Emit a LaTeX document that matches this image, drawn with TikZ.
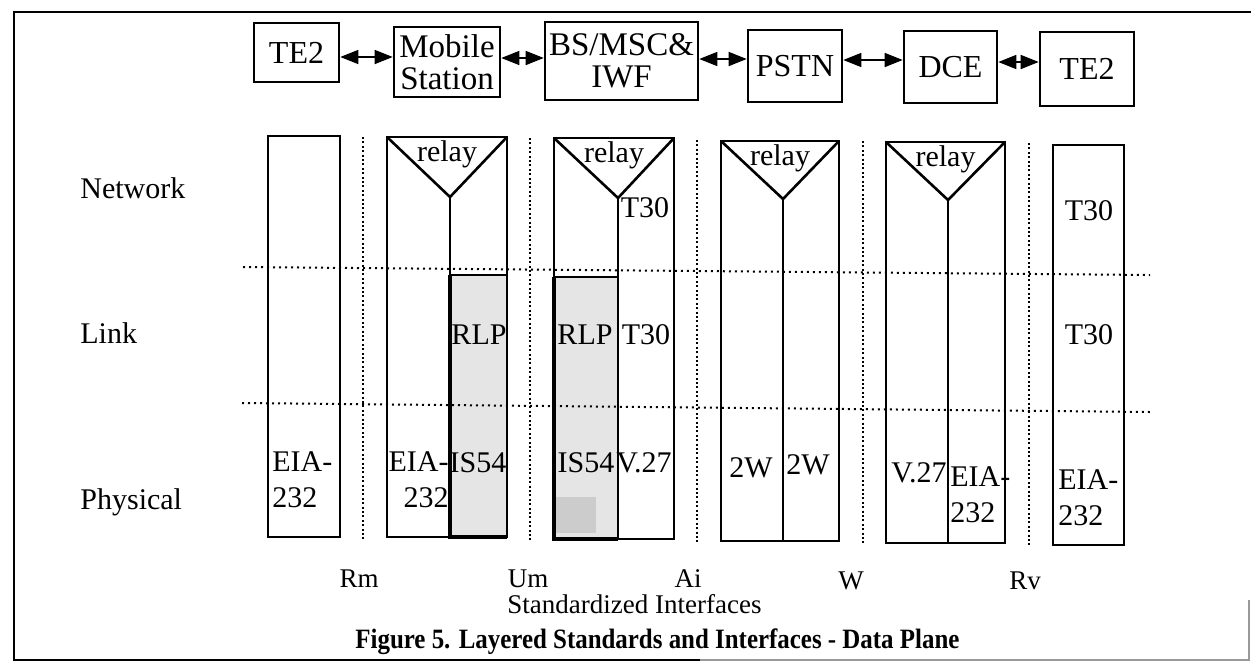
\documentclass[tikz,border=0pt]{standalone}
\usepackage{fontspec}
\setmainfont{Liberation Serif}
\usetikzlibrary{arrows.meta,positioning}
\definecolor{Shade}{gray}{0.90}
\definecolor{ShadeDark}{gray}{0.80}
\definecolor{FrameGray}{gray}{0.60}

\begin{document}
\begin{tikzpicture}[x=0.5pt, y=-0.5pt, >={Triangle[length=9pt,width=7pt]},
    unit/.style={draw, line width=1.3pt, inner sep=0pt, align=center, font=\fontsize{16}{14}\selectfont},
    col/.style={line width=0.9pt},
    relayline/.style={line width=1.3pt},
    iface/.style={line width=1.3pt, dash pattern=on 1pt off 1.2pt},
    layerline/.style={line width=1pt, dash pattern=on 1pt off 2pt},
    txt/.style={font=\fontsize{15}{18}\selectfont, inner sep=0pt},
    lbl/.style={font=\fontsize{13.5}{16}\selectfont, inner sep=0pt}]
    \useasboundingbox (0,0) rectangle (1251,670);

    % Frame
    \draw[line width=1.2pt] (1251,12) -- (14,12) -- (14,660) -- (700,660);
    \draw[FrameGray, line width=0.8pt] (700,660) -- (1249,660) -- (1249,600);

    % Top row of units
    \node[unit, minimum width=42.5pt, minimum height=29.5pt] (te2a) at (296.5,52.5) {TE2};
    \node[unit, font=\fontsize{16.5}{16}\selectfont, minimum width=53pt, minimum height=35pt] (ms) at (447,62) {Mobile\\Station};
    \node[unit, font=\fontsize{16.5}{16}\selectfont, minimum width=76.5pt, minimum height=39pt] (bsc) at (621.5,61) {BS/MSC\&\\IWF};
    \node[unit, minimum width=47pt, minimum height=36pt] (pstn) at (795,66) {PSTN};
    \node[unit, minimum width=46.5pt, minimum height=36pt] (dce) at (950.5,67) {DCE};
    \node[unit, minimum width=47pt, minimum height=37pt] (te2b) at (1087,69) {TE2};

    % Links between units
    \foreach \a/\b/\s in {te2a/ms/-2.25pt, ms/bsc/2pt, bsc/pstn/1pt, pstn/dce/3pt, dce/te2b/2.5pt} {
        \coordinate (\a-out) at ([yshift=\s]\a.east);
        \draw[<->, line width=0.8pt] (\a-out) -- (\a-out -| \b.west);
    }

    % Shaded RLP/IS54 stacks
    \fill[Shade] (450,275) rectangle (507,537);
    \fill[Shade] (554,277) rectangle (618,539);
    \fill[ShadeDark] (556,497) rectangle (596,533);
    \draw[col] (450,275) -- (507,275);
    \draw[col] (554,277) -- (618,277);
    \draw[line width=1.8pt] (450,275) -- (450,537) -- (507,537);
    \draw[line width=1.8pt] (554,277) -- (554,539) -- (618,539);

    % Layer boundaries
    \draw[layerline] (243,267) -- (1150,275);
    \draw[layerline] (242,403) -- (1150,412);

    % Protocol stacks
    \foreach \xl/\xr/\yt/\yb in {268/340/136/537, 387/507/137/537, 554/674/138/539,
                                 721/839/141/541, 886/1005/142/543, 1053/1124/145/545}
        \draw[col] (\xl,\yt) rectangle (\xr,\yb);

    % Relay triangles
    \foreach \xl/\xr/\yt/\xa/\ya/\yb [count=\i] in {387/507/137/450/197/537, 554/674/138/618/198/539,
                                                   721/839/141/783/199/541, 886/1005/142/948/200/543} {
        \draw[relayline, line join=miter] (\xl,\yt) -- (\xa,\ya) -- (\xr,\yt);
        \draw[col] (\xa,\ya) -- (\xa,\yb);
        \node[txt] (relay\i) at ({(\xl+\xr)/2},{\yt+17}) {relay};
    }

    % Interfaces
    \foreach \x/\yt/\yb in {363/137/540, 530/138/541, 697/140/542, 863/141/543, 1029/143/546}
        \draw[iface] (\x,\yt) -- (\x,\yb);

    % Layer names
    \node[txt, anchor=west] (lnet) at (80,188) {Network};
    \node[txt, anchor=west] (llink) at (80,333) {Link};
    \node[txt, anchor=west] (lphys) at (80,502) {Physical};

    % Stack contents
    \node[txt] (t30n3) at (645,208) {T30};
    \node[txt] (t30n6) at (1089,211) {T30};
    \node[txt] (rlp2) at (479,335) {RLP};
    \node[txt] (rlp3) at (585,335) {RLP};
    \node[txt] (t30l3) at (646,335) {T30};
    \node[txt] (t30l6) at (1089,335) {T30};
    \node[txt, align=left, anchor=west] (eia1) at (272,480) {EIA-\\232};
    \node[txt, align=right, anchor=east] (eia2) at (449,480) {EIA-\\232};
    \node[txt] (is2) at (478,463) {IS54};
    \node[txt] (is3) at (586,463) {IS54};
    \node[txt] (v3) at (644,463) {V.27};
    \node[txt] (w4a) at (751,468) {2W};
    \node[txt] (w4b) at (808,465) {2W};
    \node[txt] (v5) at (919,473) {V.27};
    \node[txt, align=left, anchor=west] (eia5) at (950,495) {EIA-\\232};
    \node[txt, align=left, anchor=west] (eia6) at (1058,498) {EIA-\\232};

    % Interface names and caption
    \node[lbl] (rm) at (359,579) {Rm};
    \node[lbl] (um) at (528,579) {Um};
    \node[lbl] (ai) at (688,579) {Ai};
    \node[lbl] (w) at (851,581) {W};
    \node[lbl] (rv) at (1025,581) {Rv};
    \node[lbl, anchor=west] (std) at (507,604) {Standardized Interfaces};
    \node[font=\fontsize{14}{16}\selectfont\bfseries, inner sep=0pt, anchor=west] (cap) at (355,642)
        {\scalebox{0.89}[1]{Figure 5. Layered Standards and Interfaces - Data Plane}};

\end{tikzpicture}
\end{document}
